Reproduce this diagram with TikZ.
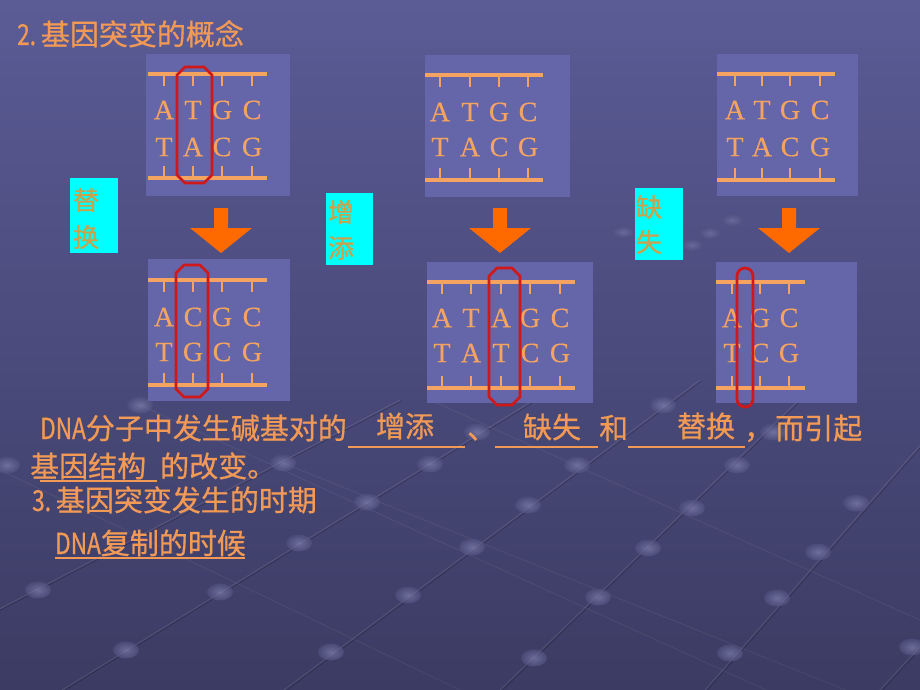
\documentclass[tikz,border=0pt]{standalone}
\usepackage{fontspec}
\setmainfont{Liberation Serif}
\newfontfamily\baseserif[FakeBold=0.4]{Liberation Serif}
\newfontfamily\cjk[FakeBold=0.6]{Noto Sans CJK SC}
\newfontfamily\cjkn[FakeStretch=0.78,FakeBold=0.6]{Noto Sans CJK SC}
\definecolor{bgtop}{HTML}{5B5B96}
\definecolor{bgbot}{HTML}{3B3B63}
\definecolor{panelc}{HTML}{6565AA}
\definecolor{ladder}{HTML}{F4A460}
\definecolor{txtc}{HTML}{F29A55}
\definecolor{ringc}{HTML}{D01818}
\definecolor{arrowc}{HTML}{FF6A00}
\definecolor{cyanbox}{HTML}{00FFFF}
\definecolor{cyantxt}{HTML}{C9A24A}
\definecolor{sphhi}{HTML}{8686B4}
\definecolor{sphlo}{HTML}{50507F}
\tikzset{
  panel/.style={fill=panelc, draw=none},
  rail/.style={draw=ladder, line width=4pt},
  tick/.style={draw=ladder, line width=2.6pt},
  basech/.style={font=\baseserif\fontsize{28}{28}\selectfont, text=ladder, inner sep=0pt},
  ringst/.style={draw=ringc, line width=2.8pt},
  blockarrow/.style={fill=arrowc, draw=none},
  tagbox/.style={fill=cyanbox, draw=none},
  tagtxt/.style={font=\cjk\fontsize{26}{26}\selectfont, text=cyantxt, inner sep=0pt},
  bigtxt/.style={font=\cjk\fontsize{29}{29}\selectfont, text=txtc, inner sep=0pt},
  ansline/.style={draw=txtc, line width=1.4pt},
  bgline/.style={draw=white, opacity=0.10, line width=0.9pt},
  bgdark/.style={draw=black, opacity=0.22, line width=0.7pt},
  sph/.style={inner color=sphhi, outer color=sphlo, opacity=0.65},
}
\begin{document}
\begin{tikzpicture}[x=1pt,y=-1pt]
\useasboundingbox (0,0) rectangle (920,690);
% background
\shade[top color=bgtop, bottom color=bgbot] (0,0) rectangle (920,690);
\begin{scope}
\clip (0,0) rectangle (920,690);
% diagonal lines (lower-left to upper-right)
\foreach \a/\b/\c/\d in {-60/640/400/400, 62/690/560/384, 284/690/700/380, 500/690/840/360, 705/690/960/400, 880/690/1000/560}{
  \draw[bgline] (\a,\b) -- (\c,\d);
  \draw[bgdark] (\a+1.5,\b+1) -- (\c+1.5,\d+1);
}
% faint cross lines (upper-left to lower-right)
\foreach \a/\b/\c/\d in {283/463/920/720, 140/405/920/760, 0/470/460/690, 430/400/920/620}{
  \draw[bgline, opacity=0.06] (\a,\b) -- (\c,\d);
}
% spheres
\foreach \x/\y in {367/502,528/505,692/508,856/503,299/543,472/547,648/548,818/552,
  38/590,220/592,408/595,598/597,777/598,126/650,331/652,534/658,730/653,912/647,
  7/465,140/405,283/463,430/464,477/432,577/465,663/405,737/465,773/432}{
  \shade[sph] (\x,\y) ellipse (13 and 8.5);
}
\foreach \x/\y in {623/232,692/245,710/233,732/220}{
  \shade[sph, opacity=0.45] (\x,\y) ellipse (11 and 6);
}
\end{scope}

% title
\node[bigtxt, anchor=base west] (title) at (17,45) {{\cjkn 2.}\,基因突变的概念};

% panels
\fill[panel] (146,54) rectangle (290,196);
\fill[panel] (148,259) rectangle (290,401);
\fill[panel] (425,55) rectangle (570,197);
\fill[panel] (427,262) rectangle (593,403);
\fill[panel] (717,54) rectangle (858,196);
\fill[panel] (716,262) rectangle (857,403);

% ladders: panel 1 top
\draw[rail] (148,74) -- (267,74);
\draw[rail] (148,178) -- (267,178);
\foreach \x in {164,193,222,252}{\draw[tick] (\x,74) -- (\x,86); \draw[tick] (\x,166) -- (\x,178);}
\foreach \x/\l [count=\i] in {164/A,193/T,222/G,252/C} \node[basech] (pa\i) at (\x,110) {\l};
\foreach \x/\l [count=\i] in {164/T,193/A,222/C,252/G} \node[basech] (pb\i) at (\x,147) {\l};
% panel 1 bottom
\draw[rail] (148,280) -- (267,280);
\draw[rail] (148,385) -- (267,385);
\foreach \x in {164,193,222,252}{\draw[tick] (\x,280) -- (\x,292); \draw[tick] (\x,373) -- (\x,385);}
\foreach \x/\l [count=\i] in {164/A,193/C,222/G,252/C} \node[basech] (pc\i) at (\x,317) {\l};
\foreach \x/\l [count=\i] in {164/T,193/G,222/C,252/G} \node[basech] (pd\i) at (\x,352) {\l};
% panel 2 top
\draw[rail] (425,75) -- (543,75);
\draw[rail] (425,180) -- (543,180);
\foreach \x in {440,470,499,528}{\draw[tick] (\x,75) -- (\x,87); \draw[tick] (\x,168) -- (\x,180);}
\foreach \x/\l [count=\i] in {440/A,470/T,499/G,528/C} \node[basech] (pe\i) at (\x,112) {\l};
\foreach \x/\l [count=\i] in {440/T,470/A,499/C,528/G} \node[basech] (pf\i) at (\x,147) {\l};
% panel 2 bottom
\draw[rail] (427,282) -- (575,282);
\draw[rail] (427,388) -- (575,388);
\foreach \x in {442,471,501,530,560}{\draw[tick] (\x,282) -- (\x,294); \draw[tick] (\x,376) -- (\x,388);}
\foreach \x/\l [count=\i] in {442/A,471/T,501/A,530/G,560/C} \node[basech] (pg\i) at (\x,318) {\l};
\foreach \x/\l [count=\i] in {442/T,471/A,501/T,530/C,560/G} \node[basech] (ph\i) at (\x,353) {\l};
% panel 3 top
\draw[rail] (717,74) -- (835,74);
\draw[rail] (717,180) -- (835,180);
\foreach \x in {735,762,790,820}{\draw[tick] (\x,74) -- (\x,86); \draw[tick] (\x,168) -- (\x,180);}
\foreach \x/\l [count=\i] in {735/A,762/T,790/G,820/C} \node[basech] (pi\i) at (\x,110) {\l};
\foreach \x/\l [count=\i] in {735/T,762/A,790/C,820/G} \node[basech] (pj\i) at (\x,147) {\l};
% panel 3 bottom
\draw[rail] (716,282) -- (805,282);
\draw[rail] (716,388) -- (805,388);
\foreach \x in {732,760,789}{\draw[tick] (\x,282) -- (\x,294); \draw[tick] (\x,376) -- (\x,388);}
\foreach \x/\l [count=\i] in {732/A,760/G,789/C} \node[basech] (pk\i) at (\x,318) {\l};
\foreach \x/\l [count=\i] in {732/T,760/C,789/G} \node[basech] (pl\i) at (\x,353) {\l};

% red rings
\draw[ringst] (185,67) -- (204,67) -- (212,75) -- (212,175) -- (204,183) -- (185,183) -- (177,175) -- (177,75) -- cycle;
\draw[ringst] (184,265) -- (200,265) -- (208,273) -- (208,389) -- (200,397) -- (184,397) -- (176,389) -- (176,273) -- cycle;
\draw[ringst] (497,268) -- (512,268) -- (520,276) -- (520,397) -- (512,405) -- (497,405) -- (489,397) -- (489,276) -- cycle;
\draw[ringst, rounded corners=8pt] (737,268) rectangle (753,407);

% block arrows
\foreach \c in {221,500,789}{
  \fill[blockarrow] (\c-7,208) -- (\c+7,208) -- (\c+7,228) -- (\c+31,228) -- (\c,253) -- (\c-31,228) -- (\c-7,228) -- cycle;
}

% cyan tags
\fill[tagbox] (70,178) rectangle (118,253);
\node[tagtxt] (t1a) at (86,200) {替};
\node[tagtxt] (t1b) at (86,237) {换};
\fill[tagbox] (326,193) rectangle (373,265);
\node[tagtxt] (t2a) at (341,212) {增};
\node[tagtxt] (t2b) at (341,248) {添};
\fill[tagbox] (635,188) rectangle (683,260);
\node[tagtxt] (t3a) at (649,207) {缺};
\node[tagtxt] (t3b) at (649,242) {失};

% sentence line 1
\node[bigtxt, anchor=base west] (s1) at (40,439) {{\cjkn DNA}分子中发生碱基对的};
\draw[ansline] (348,447) -- (465,447);
\node[bigtxt] (a1) at (405,426) {增添};
\node[bigtxt, anchor=base west] (s2) at (467,439) {、};
\draw[ansline] (495,447) -- (598,447);
\node[bigtxt] (a2) at (552,427) {缺失};
\node[bigtxt, anchor=base west] (s3) at (599,439) {和};
\draw[ansline] (628,447) -- (745,447);
\node[bigtxt] (a3) at (706,426) {替换};
\node[bigtxt, anchor=base west] (s4) at (744,439) {，};
\node[bigtxt, anchor=base west] (s5) at (775,439) {而引起};

% line 2
\node[bigtxt, anchor=base west] (s6) at (30,477) {基因结构};
\draw[ansline] (40,481) -- (157,481);
\node[bigtxt, anchor=base west] (s7) at (160,477) {的改变。};

% line 3
\node[bigtxt, anchor=base west] (h3) at (32,511) {{\cjkn 3.}\,基因突变发生的时期};

% line 4
\node[bigtxt, anchor=base west] (ans4) at (55,554) {{\cjkn DNA}复制的时候};
\draw[ansline] (55,558) -- (245,558);
\end{tikzpicture}
\end{document}
